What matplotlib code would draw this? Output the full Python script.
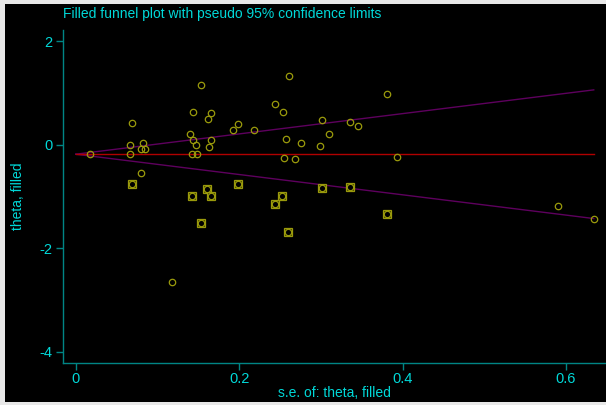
import matplotlib.pyplot as plt
from matplotlib.patches import Rectangle

# observed studies (s.e., theta)
se_obs = [0.018, 0.066, 0.069, 0.066, 0.082, 0.080, 0.085, 0.080, 0.118, 0.140,
          0.143, 0.144, 0.147, 0.142, 0.149, 0.153, 0.162, 0.166, 0.166, 0.163,
          0.192, 0.198, 0.218, 0.244, 0.254, 0.261, 0.257, 0.255, 0.268, 0.276,
          0.299, 0.302, 0.310, 0.336, 0.345, 0.381, 0.393, 0.590, 0.634]
theta_obs = [-0.18, 0.006, 0.419, -0.18, 0.033, -0.083, -0.077, -0.535, -2.653, 0.213,
             0.632, 0.091, 0.006, -0.168, -0.174, 1.165, 0.497, 0.618, 0.091, -0.044,
             0.290, 0.400, 0.296, 0.792, 0.638, 1.333, 0.110, -0.257, -0.276, 0.039,
             -0.014, 0.477, 0.213, 0.450, 0.373, 0.980, -0.226, -1.185, -1.430]

# filled studies
se_fill = [0.069, 0.142, 0.161, 0.165, 0.198, 0.253, 0.244, 0.260, 0.153, 0.302,
           0.336, 0.381]
theta_fill = [-0.759, -0.980, -0.844, -0.980, -0.748, -0.986, -1.146, -1.687, -1.513,
              -0.825, -0.806, -1.333]

# pooled estimate and pseudo 95% limits
line_x = [0, 0.634]
pooled = [-0.18, -0.18]
upper = [-0.18, 1.063]
lower = [-0.18, -1.423]

teal = '#008585'
cyan = '#00d8d8'
olive = '#9a9a0c'

plt.rcParams['font.family'] = ['Liberation Sans', 'DejaVu Sans']

fig = plt.figure(figsize=(6.06, 4.05), dpi=100)
fig.patch.set_facecolor('#e8e8e8')
fig.patches.append(Rectangle((5 / 606, 3 / 405), 601 / 606, 398 / 405,
                             transform=fig.transFigure, facecolor='black',
                             edgecolor='none', zorder=-10))

ax = fig.add_axes([63.3 / 606, 41.7 / 405, (606 - 63.3) / 606, (363.3 - 30) / 405])
ax.set_facecolor('black')
ax.set_zorder(5)

ax.plot(line_x, upper, color='#5e005e', lw=1)
ax.plot(line_x, lower, color='#5e005e', lw=1)
ax.plot(line_x, pooled, color='#b00000', lw=1)

ax.plot(se_fill, theta_fill, 's', ms=6.2, mfc='#3a3a00', mec=olive, mew=0.9, ls='none')
ax.plot(se_obs, theta_obs, 'o', ms=4.6, mfc='none', mec=olive, mew=0.9, ls='none')
ax.plot(se_fill, theta_fill, 'o', ms=4.6, mfc='black', mec=olive, mew=0.9, ls='none')

ax.set_xlim(-0.0152, 0.649)
ax.set_ylim(-4.22, 2.22)
ax.set_xticks([0, 0.2, 0.4, 0.6])
ax.set_xticklabels(['0', '0.2', '0.4', '0.6'])
ax.set_yticks([-4, -2, 0, 2])
ax.set_yticklabels(['-4', '-2', '0', '2'])

for s in ['top', 'right']:
    ax.spines[s].set_visible(False)
for s in ['left', 'bottom']:
    ax.spines[s].set_color(teal)
    ax.spines[s].set_linewidth(1)
ax.tick_params(colors=teal, labelcolor=cyan, length=5, width=1, labelsize=10.5)
ax.tick_params(axis='x', pad=1.5)
ax.tick_params(axis='y', pad=3)

ax.set_xlabel('s.e. of: theta, filled', color=cyan, fontsize=10, labelpad=0)
ax.set_ylabel('theta, filled', color=cyan, fontsize=10, labelpad=10)
fig.text(63.3 / 606, 1 - 14 / 405, 'Filled funnel plot with pseudo 95% confidence limits',
         color=cyan, fontsize=10, ha='left', va='center')

fig.savefig('out.png', dpi=100, facecolor=fig.get_facecolor())
